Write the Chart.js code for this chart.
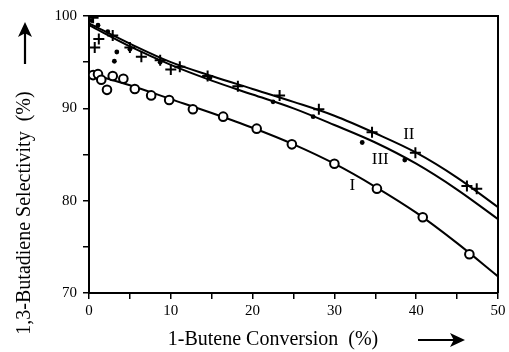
<!DOCTYPE html>
<html>
<head>
<meta charset="utf-8">
<script src="https://cdn.jsdelivr.net/npm/chart.js@4"></script>
<style>
  html, body { margin: 0; padding: 0; background: #fff; }
  #wrap { width: 509px; height: 352px; }
</style>
</head>
<body>
<div id="wrap"><canvas id="chart" width="509" height="352"></canvas></div>
<script>
"use strict";

// Measured points, series I (open circles)
var convI = [0.5, 1.1, 1.5, 2.2, 2.9, 4.2, 5.6, 7.6, 9.8, 12.7, 16.4, 20.5, 24.8, 30.0, 35.2, 40.8, 46.5];
var selI  = [93.6, 93.7, 93.1, 92.0, 93.5, 93.2, 92.1, 91.4, 90.9, 89.9, 89.1, 87.8, 86.1, 84.0, 81.3, 78.2, 74.2];

// Series II (crosses)
var convII = [0.5, 0.7, 1.2, 2.9, 5.0, 6.4, 8.7, 10.0, 11.1, 14.5, 18.2, 23.3, 28.1, 34.6, 39.9, 46.2, 47.4];
var selII  = [99.8, 96.6, 97.5, 97.9, 96.6, 95.6, 95.2, 94.2, 94.5, 93.5, 92.4, 91.4, 89.9, 87.4, 85.2, 81.6, 81.3];

// Series III (dots)
var convIII = [0.3, 1.1, 2.3, 3.1, 3.4, 5.0, 8.7, 14.8, 22.5, 27.4, 33.4, 38.6];
var selIII  = [99.5, 99.0, 98.3, 95.1, 96.1, 96.4, 95.0, 93.3, 90.7, 89.1, 86.3, 84.4];

// Fitted curves
var curveX   = [0, 5, 10, 15, 20, 25, 30, 35, 40, 45, 50];
var curveI   = [93.8, 92.5, 91.0, 89.5, 87.9, 86.1, 84.0, 81.5, 78.7, 75.4, 71.8];
var curveII  = [99.2, 97.0, 95.0, 93.5, 92.1, 90.7, 89.2, 87.3, 85.2, 82.5, 79.3];
var curveIII = [99.0, 96.7, 94.7, 93.0, 91.5, 90.0, 88.2, 86.3, 84.0, 81.2, 78.0];

var serif = "'Liberation Serif', 'DejaVu Serif', serif";

function pairs(xs, ys) {
    var out = [];
    for (var i = 0; i < xs.length; i++) {
        out.push({ x: xs[i], y: ys[i] });
    }
    return out;
}

function curve(ys) {
    return {
        type: "line",
        data: pairs(curveX, ys),
        borderColor: "#000",
        borderWidth: 2,
        pointRadius: 0,
        fill: false,
        cubicInterpolationMode: "monotone",
        order: 2
    };
}

// Curve labels, box edges, axis titles and arrows
var decorations = {
    id: "decorations",
    afterDraw: function(chart) {
        var ctx = chart.ctx;
        var a = chart.chartArea;
        var xs = chart.scales.x;
        var ys = chart.scales.y;

        ctx.save();
        ctx.strokeStyle = "#000";
        ctx.lineWidth = 2;
        ctx.beginPath();
        ctx.moveTo(a.left, a.top);
        ctx.lineTo(a.right, a.top);
        ctx.lineTo(a.right, a.bottom);
        ctx.stroke();

        ctx.fillStyle = "#000";
        ctx.font = "17px " + serif;
        ctx.textAlign = "center";
        ctx.textBaseline = "middle";
        ctx.fillText("I", xs.getPixelForValue(32.2), ys.getPixelForValue(81.6));
        ctx.fillText("II", xs.getPixelForValue(39.1), ys.getPixelForValue(87.2));
        ctx.fillText("III", xs.getPixelForValue(35.6), ys.getPixelForValue(84.5));

        // x title + arrow
        ctx.font = "20px " + serif;
        ctx.fillText("1-Butene Conversion  (%)", 273, 340);
        drawArrow(ctx, 418, 340, 465, 340);

        // y title + arrow
        ctx.save();
        ctx.translate(25, 213);
        ctx.rotate(-Math.PI / 2);
        ctx.fillText("1,3-Butadiene Selectivity  (%)", 0, 0);
        ctx.restore();
        drawArrow(ctx, 25, 64, 25, 22);
        ctx.restore();
    }
};

function drawArrow(ctx, x1, y1, x2, y2) {
    var ang = Math.atan2(y2 - y1, x2 - x1);
    var len = 15, w = 7;
    ctx.lineWidth = 2.2;
    ctx.beginPath();
    ctx.moveTo(x1, y1);
    ctx.lineTo(x2 - Math.cos(ang) * len * 0.6, y2 - Math.sin(ang) * len * 0.6);
    ctx.stroke();
    ctx.beginPath();
    ctx.moveTo(x2, y2);
    ctx.lineTo(x2 - Math.cos(ang) * len - Math.sin(ang) * w, y2 - Math.sin(ang) * len + Math.cos(ang) * w);
    ctx.lineTo(x2 - Math.cos(ang) * len * 0.75, y2 - Math.sin(ang) * len * 0.75);
    ctx.lineTo(x2 - Math.cos(ang) * len + Math.sin(ang) * w, y2 - Math.sin(ang) * len - Math.cos(ang) * w);
    ctx.closePath();
    ctx.fill();
}

function drawChart() {
    var ctx = document.getElementById("chart");
    new Chart(ctx, {
        type: "scatter",
        data: {
            datasets: [
                {
                    data: pairs(convI, selI),
                    pointStyle: "circle",
                    pointRadius: 4.3,
                    borderColor: "#000",
                    borderWidth: 2,
                    backgroundColor: "#fff",
                    order: 0
                },
                {
                    data: pairs(convII, selII),
                    pointStyle: "cross",
                    pointRadius: 5.5,
                    borderColor: "#000",
                    borderWidth: 2,
                    order: 0
                },
                {
                    data: pairs(convIII, selIII),
                    pointStyle: "circle",
                    pointRadius: 2.4,
                    borderColor: "#000",
                    borderWidth: 0,
                    backgroundColor: "#000",
                    order: 0
                },
                curve(curveI),
                curve(curveII),
                curve(curveIII)
            ]
        },
        options: {
            responsive: false,
            animation: false,
            layout: { padding: { left: 0, right: 11, top: 16, bottom: 0 } },
            plugins: {
                legend: { display: false },
                tooltip: { enabled: false }
            },
            scales: {
                x: {
                    type: "linear",
                    min: 0,
                    max: 50,
                    afterFit: function(s) { s.height = 59; },
                    border: { display: true, color: "#000", width: 2 },
                    grid: { drawOnChartArea: false, color: "#000", lineWidth: 1.5, tickLength: 6 },
                    ticks: {
                        stepSize: 5,
                        color: "#000",
                        padding: 3,
                        maxRotation: 0,
                        font: { family: serif, size: 15 },
                        callback: function(v) { return v % 10 === 0 ? v : ""; }
                    }
                },
                y: {
                    min: 70,
                    max: 100,
                    afterFit: function(s) { s.width = 89; },
                    border: { display: true, color: "#000", width: 2 },
                    grid: { drawOnChartArea: false, color: "#000", lineWidth: 1.5, tickLength: 6 },
                    ticks: {
                        stepSize: 5,
                        color: "#000",
                        padding: 6,
                        font: { family: serif, size: 15 },
                        callback: function(v) { return v % 10 === 0 ? v : ""; }
                    }
                }
            }
        },
        plugins: [decorations]
    });
}

window.onload = drawChart;
</script>
</body>
</html>
